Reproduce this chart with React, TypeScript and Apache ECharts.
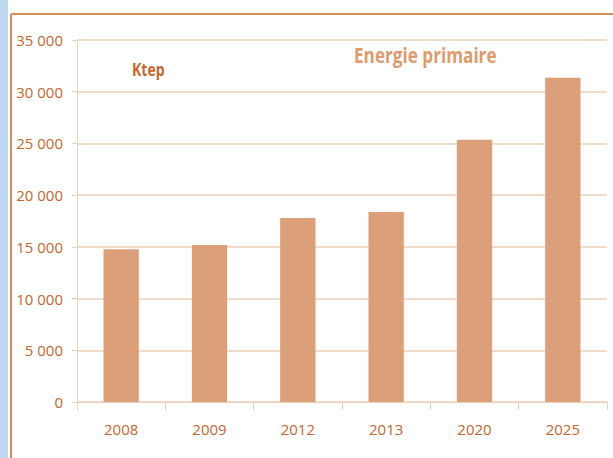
import React, { useEffect, useRef } from "react";
import * as echarts from "echarts";

const categories = ["2008", "2009", "2012", "2013", "2020", "2025"];
const values = [14780, 15170, 17790, 18370, 25360, 31360];
const yTicks = [0, 5000, 10000, 15000, 20000, 25000, 30000, 35000];

const FONT = "'Open Sans', sans-serif";
const TXT = "#c4662e";
const LINE = "#edd0b9";

export default function App() {
  const ref = useRef<HTMLDivElement>(null);
  useEffect(() => {
    if (!ref.current) return;
    const chart = echarts.init(ref.current, null, { renderer: "svg" });
    chart.setOption({
      animation: false,
      backgroundColor: "#ffffff",
      graphic: [
        { type: "rect", shape: { x: 0, y: 0, width: 8, height: 458 }, style: { fill: "#bdd7ee" } },
        { type: "line", shape: { x1: 11, y1: 14, x2: 11, y2: 458 }, style: { stroke: "#d58b58", lineWidth: 2 } },
        { type: "line", shape: { x1: 11, y1: 14, x2: 613, y2: 14 }, style: { stroke: "#d58b58", lineWidth: 2 } },
        {
          type: "text", x: 132, y: 60, scaleX: 0.78,
          style: { text: "Ktep", fill: TXT, font: `bold 18px ${FONT}`, textVerticalAlign: "top" },
        },
        {
          type: "text", x: 354, y: 44, scaleX: 0.78,
          style: { text: "Energie primaire", fill: "#dd9b6e", font: `bold 22px ${FONT}`, textVerticalAlign: "top" },
        },
      ],
      grid: { left: 77, right: 6, top: 40, bottom: 56 },
      xAxis: {
        type: "category",
        data: categories,
        axisLine: { show: true, lineStyle: { color: LINE, width: 1 } },
        axisTick: { show: true, length: 8, lineStyle: { color: LINE } },
        axisLabel: { color: TXT, fontFamily: FONT, fontSize: 15, margin: 19 },
      },
      yAxis: {
        type: "value",
        min: 0,
        max: 35000,
        interval: 5000,
        axisLine: { show: true, lineStyle: { color: LINE } },
        axisTick: { show: true, length: 5, lineStyle: { color: LINE } },
        splitLine: { show: true, lineStyle: { color: LINE, width: 1.5 } },
        axisLabel: {
          color: TXT,
          fontFamily: FONT,
          fontSize: 15,
          margin: 14,
          formatter: (v: number) =>
            yTicks.includes(v) ? String(v).replace(/\B(?=(\d{3})+(?!\d))/g, " ") : "",
        },
      },
      series: [
        {
          type: "bar",
          data: values,
          barWidth: "40%",
          itemStyle: { color: "#dba07a" },
        },
      ],
    });
    return () => chart.dispose();
  }, []);
  return <div ref={ref} style={{ width: 613, height: 458, position: "absolute", left: 0, top: 0 }} />;
}
